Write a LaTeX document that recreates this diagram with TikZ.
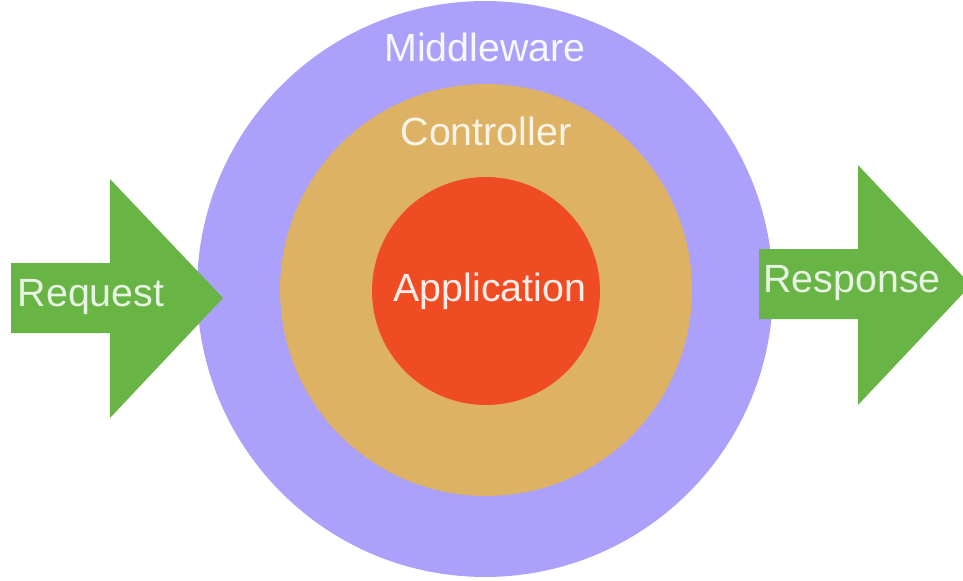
\documentclass[tikz,border=0pt]{standalone}
\usepackage{fontspec}
\setmainfont{Liberation Sans}
\usetikzlibrary{positioning}

\definecolor{mwcolor}{RGB}{171,160,250}
\definecolor{ctcolor}{RGB}{221,178,100}
\definecolor{apcolor}{RGB}{240,76,36}
\definecolor{arcolor}{RGB}{104,180,68}

\begin{document}
\begin{tikzpicture} [
    x=0.02cm, y=-0.02cm,
    ring/.style     = { circle, draw=none, inner sep=0pt },
    lbl/.style      = { inner sep=0pt, font=\fontsize{22.4}{26}\selectfont },
    arrowbox/.style = { fill=arcolor, draw=none },
  ]
  \useasboundingbox (0,0) rectangle (963,581);

  % Define the rings
  \node[ring, fill=mwcolor, minimum size=11.52cm] (mw) at (485,289) {};
  \node[ring, fill=ctcolor, minimum size=8.24cm] (ct) at (486,290) {};
  \node[ring, fill=apcolor, minimum size=4.56cm] (ap) at (486,291) {};

  % ring labels
  \node[lbl, text=white!92!mwcolor] (mwtext) at ([yshift=-0.93cm]mw.north) {Middleware};
  \node[lbl, text=white!85!ctcolor] (cttext) at ([yshift=-0.96cm]ct.north) {Controller};
  \node[lbl, text=white!90!apcolor] (aptext) at ([xshift=0.08cm]ap.center) {Application};

  % the two arrows
  \path[arrowbox] (11,263) -- (110,263) -- (110,179) -- (223,298)
        -- (110,418) -- (110,333) -- (11,333) -- cycle;
  \path[arrowbox] (759,249) -- (858,249) -- (858,165) -- (971,285)
        -- (858,405) -- (858,319) -- (759,319) -- cycle;

  \node[lbl, text=white!85!arcolor] (request) at (91,297) {Request};
  \node[lbl, text=white!85!arcolor] (response) at (852,283) {Response};
\end{tikzpicture}
\end{document}
